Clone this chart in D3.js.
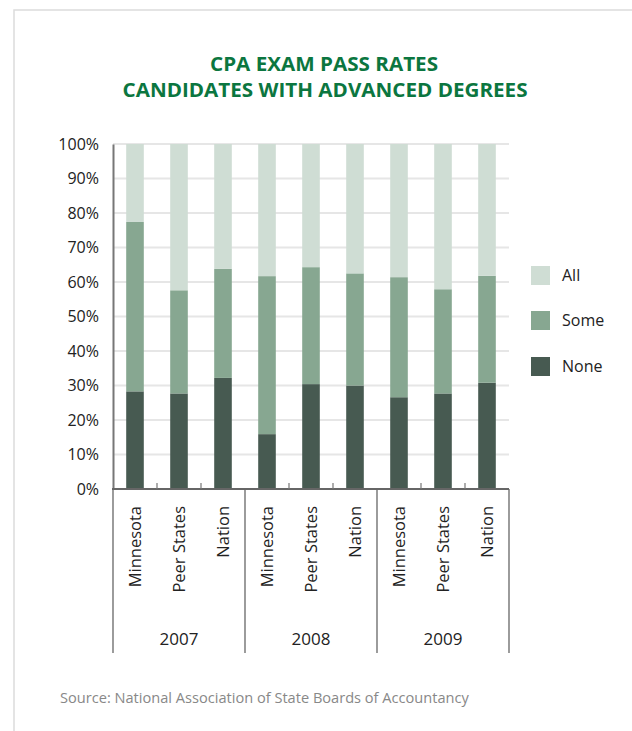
<!DOCTYPE html>
<html><head><meta charset="utf-8">
<script src="https://cdn.jsdelivr.net/npm/d3@7"></script>
<style>body{margin:0;background:#fff}svg{display:block}text{font-family:"Open Sans",sans-serif}</style>
</head><body>
<svg id="c" width="632" height="731"></svg>
<script>
const years = ["2007","2008","2009"];
const groups = ["Minnesota","Peer States","Nation"];
const noneVals = [28.3,27.7,32.2, 15.9,30.4,30.0, 26.6,27.7,30.8];
const someVals = [49.1,29.9,31.6, 45.8,33.9,32.5, 34.8,30.2,31.0];
const allVals  = [22.6,42.4,36.2, 38.3,35.7,37.5, 38.6,42.1,38.2];
const seriesNames = ["None","Some","All"];
const colors = {None:"#475a51", Some:"#87a791", All:"#cfddd4"};
const yTicks = [0,10,20,30,40,50,60,70,80,90,100];

const rows = [];
years.forEach((y,yi)=>groups.forEach((g,gi)=>{
  const i = yi*3+gi;
  rows.push({key:y+"|"+g, year:y, group:g, None:noneVals[i], Some:someVals[i], All:allVals[i]});
}));

const svg = d3.select("#c");
const L=113, R=509, T=144, B=489;

// frame
svg.append("path").attr("d","M14,731 V10 H632").attr("fill","none").attr("stroke","#dcdcdc").attr("stroke-width",1.5);

// title
const title = svg.append("text").attr("text-anchor","middle").attr("fill","#0b7640").attr("font-weight",700).attr("font-size",20);
title.append("tspan").attr("x",324).attr("y",71).attr("textLength",228).attr("lengthAdjust","spacingAndGlyphs").text("CPA EXAM PASS RATES");
title.append("tspan").attr("x",325).attr("y",97).attr("textLength",405).attr("lengthAdjust","spacingAndGlyphs").text("CANDIDATES WITH ADVANCED DEGREES");

const x = d3.scaleBand().domain(rows.map(d=>d.key)).range([L,R]).paddingInner(0.6).paddingOuter(0.3);
const y = d3.scaleLinear().domain([0,100]).range([B,T]);

// gridlines
svg.append("g").selectAll("line").data(yTicks.filter(t=>t>0)).join("line")
  .attr("x1",L).attr("x2",R).attr("y1",d=>y(d)).attr("y2",d=>y(d))
  .attr("stroke","#e6e6e6").attr("stroke-width",2);

// bars
const stack = d3.stack().keys(seriesNames)(rows);
svg.append("g").selectAll("g").data(stack).join("g").attr("fill",d=>colors[d.key])
  .selectAll("rect").data(d=>d).join("rect")
  .attr("x",d=>x(d.data.key)).attr("width",x.bandwidth())
  .attr("y",d=>y(d[1])).attr("height",d=>y(d[0])-y(d[1]));

// y axis
const ya = svg.append("g").attr("transform",`translate(${L},0)`)
  .call(d3.axisLeft(y).tickValues(yTicks).tickSize(0).tickPadding(14).tickFormat(d=>d+"%"));
ya.select(".domain").attr("stroke","#777").attr("stroke-width",2);
ya.selectAll("text").attr("font-size",16).attr("fill","#222").attr("font-family","'Open Sans',sans-serif");

// x axis line
svg.append("line").attr("x1",L-1).attr("x2",R).attr("y1",B).attr("y2",B).attr("stroke","#666").attr("stroke-width",2);

// minor ticks between bars within group
const step = x.step();
const minor = [];
rows.forEach((d,i)=>{ if(i%3!==2) minor.push(x(d.key)+x.bandwidth()/2+step/2); });
svg.append("g").selectAll("line").data(minor).join("line")
  .attr("x1",d=>d).attr("x2",d=>d).attr("y1",B).attr("y2",B-6).attr("stroke","#777").attr("stroke-width",1.2);

// group separators
const gx = d3.scaleBand().domain(years).range([L,R]);
const seps = [L].concat(years.map(yr=>gx(yr)+gx.bandwidth()));
svg.append("g").selectAll("line").data(seps).join("line")
  .attr("x1",d=>d).attr("x2",d=>d).attr("y1",B).attr("y2",653).attr("stroke","#666").attr("stroke-width",1.3);

// category labels
svg.append("g").selectAll("text").data(rows).join("text")
  .attr("transform",d=>`translate(${x(d.key)+x.bandwidth()/2},506) rotate(-90)`)
  .attr("text-anchor","end").attr("dy","0.35em").attr("font-size",16.5).attr("fill","#222")
  .text(d=>d.group);

// year labels
svg.append("g").selectAll("text").data(years).join("text")
  .attr("x",d=>gx(d)+gx.bandwidth()/2).attr("y",645).attr("text-anchor","middle")
  .attr("font-size",17).attr("fill","#222").text(d=>d);

// legend
const leg = svg.append("g").selectAll("g").data(["All","Some","None"]).join("g")
  .attr("transform",(d,i)=>`translate(531,${[266,311,357][i]})`);
leg.append("rect").attr("width",19).attr("height",19).attr("fill",d=>colors[d]);
leg.append("text").attr("x",31).attr("y",15).attr("font-size",16).attr("fill","#222").text(d=>d);

// source
svg.append("text").attr("x",60).attr("y",703).attr("font-size",14.6).attr("fill","#888")
  .text("Source: National Association of State Boards of Accountancy");
</script>
</body></html>
